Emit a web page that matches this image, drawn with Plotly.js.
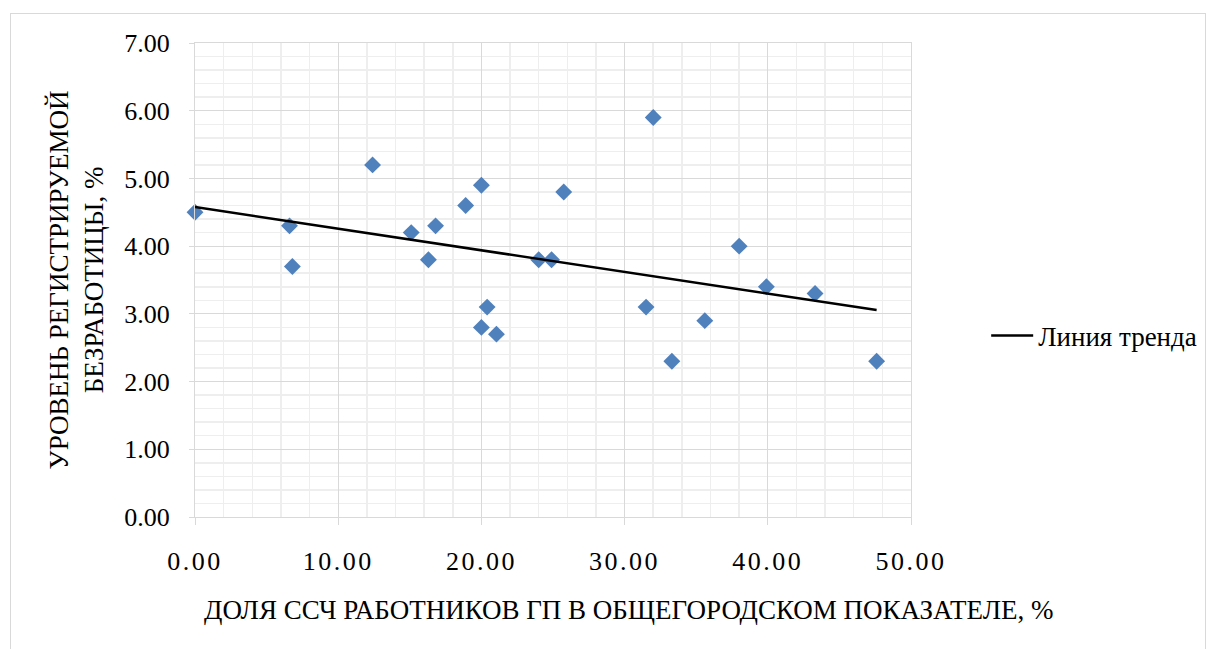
<!DOCTYPE html>
<html><head><meta charset="utf-8">
<script src="https://cdn.plot.ly/plotly-3.0.1.min.js"></script>
<style>
html,body{margin:0;padding:0;background:#fff;overflow:hidden;}
#frame{position:absolute;left:10px;top:13px;width:1194px;height:700px;border:1px solid #d9d9d9;}
#chart{position:absolute;left:0;top:0;width:1214px;height:649px;}
.xtick text{letter-spacing:2.5px;}
</style></head><body>
<div id="frame"></div>
<div id="chart"></div>
<script>
// Доля ССЧ работников ГП в общегородском показателе, %
const shareGP = [0.0, 6.6, 6.8, 12.4, 15.1, 16.8, 16.3, 18.9, 20.0, 24.0, 24.9, 25.75,
                 20.4, 20.0, 21.05, 32.0, 31.5, 33.3, 35.6, 38.0, 39.9, 43.3, 47.6];
// Уровень регистрируемой безработицы, %
const unemployment = [4.5, 4.3, 3.7, 5.2, 4.2, 4.3, 3.8, 4.6, 4.9, 3.8, 3.8, 4.8,
                      3.1, 2.8, 2.7, 5.9, 3.1, 2.3, 2.9, 4.0, 3.4, 3.3, 2.3];
const trendName = 'Линия тренда';
const xTitle = 'ДОЛЯ ССЧ РАБОТНИКОВ ГП В ОБЩЕГОРОДСКОМ ПОКАЗАТЕЛЕ, %';
const yTitle = 'УРОВЕНЬ РЕГИСТРИРУЕМОЙ<br>БЕЗРАБОТИЦЫ, %';

// linear least-squares trend
const n = shareGP.length;
const mx = shareGP.reduce((a,b)=>a+b,0)/n;
const my = unemployment.reduce((a,b)=>a+b,0)/n;
let sxy = 0, sxx = 0;
for (let i=0;i<n;i++){ sxy += (shareGP[i]-mx)*(unemployment[i]-my); sxx += (shareGP[i]-mx)**2; }
const slope = sxy/sxx, icpt = my - slope*mx;
const xmin = Math.min(...shareGP), xmax = Math.max(...shareGP);
const trendX = [xmin, xmax];
const trendY = trendX.map(v => icpt + slope*v);

const font = "'Liberation Serif', 'Times New Roman', serif";
const traces = [
  {x: shareGP, y: unemployment, type:'scatter', mode:'markers', showlegend:false,
   cliponaxis:false,
   marker:{symbol:'diamond', size:13, color:'#4F81BD'}, hoverinfo:'x+y'},
  {x: trendX, y: trendY, type:'scatter', mode:'lines', name: trendName,
   cliponaxis:false,
   line:{color:'#000000', width:2.5}}
];
const layout = {
  width:1214, height:649,
  margin:{l:195, r:303, t:43, b:132},
  paper_bgcolor:'rgba(0,0,0,0)', plot_bgcolor:'#ffffff',
  font:{family:font, size:26, color:'#000'},
  xaxis:{range:[0,50], dtick:10, tick0:0, tickformat:'.2f',
    showgrid:true, gridcolor:'#d9d9d9', gridwidth:1,
    minor:{dtick:2, showgrid:true, gridcolor:'#eeeeee', gridwidth:1.5, ticks:''},
    showline:true, linecolor:'#d9d9d9', linewidth:1, mirror:true,
    ticks:'outside', ticklen:7, tickcolor:'#d9d9d9', ticklabelstandoff:14,
    zeroline:false, tickfont:{family:font, size:26}},
  yaxis:{range:[0,7], dtick:1, tick0:0, tickformat:'.2f',
    showgrid:true, gridcolor:'#d9d9d9', gridwidth:1,
    minor:{dtick:0.2, showgrid:true, gridcolor:'#eeeeee', gridwidth:1.5, ticks:''},
    showline:true, linecolor:'#d9d9d9', linewidth:1, mirror:true,
    ticks:'outside', ticklen:5, tickcolor:'#d9d9d9', ticklabelstandoff:14,
    zeroline:false, tickfont:{family:font, size:26},
    title:{text:yTitle, font:{family:font, size:27}, standoff:12}},
  annotations:[{text:xTitle, xref:'paper', yref:'paper', x:0.605, y:-0.196,
    xanchor:'center', yanchor:'middle', showarrow:false, font:{family:font, size:27}}],
  showlegend:true,
  legend:{x:1.105, xanchor:'left', y:0.382, yanchor:'middle', font:{family:font, size:27},
    itemwidth:42, bgcolor:'rgba(0,0,0,0)'}
};
Plotly.newPlot('chart', traces, layout, {displayModeBar:false, staticPlot:true});
</script>
</body></html>
